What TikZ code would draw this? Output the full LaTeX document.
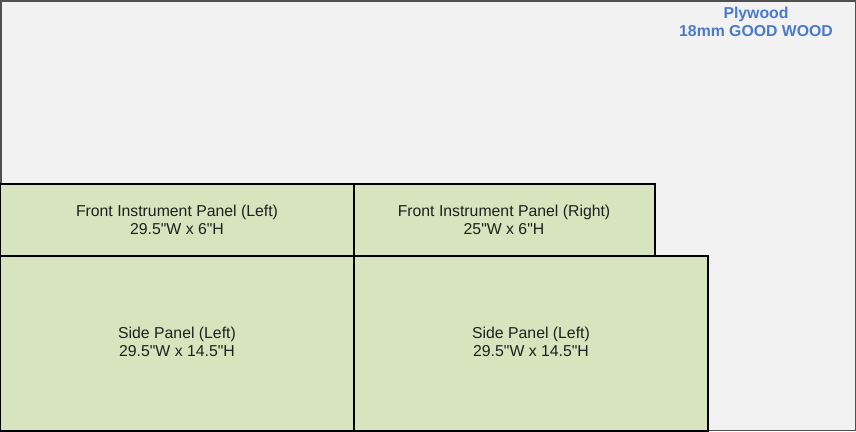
\documentclass[tikz,border=0pt]{standalone}
\usepackage{fontspec}
\setmainfont{Liberation Sans}[Ligatures=TeXOff]
\definecolor{bg}{HTML}{F2F2F2}
\definecolor{panel}{HTML}{D7E4BD}
\definecolor{blu}{HTML}{4A7BC8}
\definecolor{frame}{HTML}{505050}
\begin{document}
\begin{tikzpicture}[x=1pt,y=-1pt,
  panelbox/.style={draw=black,line width=1.3pt,fill=panel},
  lbl/.style={align=center,font=\fontsize{15.8}{18.5}\selectfont,text=black!88,inner sep=0pt}]
\useasboundingbox (0,0) rectangle (856,431);
\fill[bg] (0,0) rectangle (856,431);
\draw[frame,line width=1.5pt] (0.75,0.75) rectangle (855.25,430.25);
\draw[panelbox] (0,184) rectangle (354,256);
\draw[panelbox] (354,184) rectangle (655,256);
\draw[panelbox] (0,256) rectangle (354,431);
\draw[panelbox] (354,256) rectangle (708,431);
\node[lbl] (fl) at (177,220) {Front Instrument Panel (Left)\\29.5"W x 6"H};
\node[lbl] (fr) at (504,220) {Front Instrument Panel (Right)\\25"W x 6"H};
\node[lbl] (sl) at (177,342) {Side Panel (Left)\\29.5"W x 14.5"H};
\node[lbl] (sr) at (531,342) {Side Panel (Left)\\29.5"W x 14.5"H};
\node[lbl,font=\bfseries\fontsize{15.8}{18.5}\selectfont,text=blu] (ply) at (756,22) {Plywood\\18mm GOOD WOOD};
\end{tikzpicture}
\end{document}
